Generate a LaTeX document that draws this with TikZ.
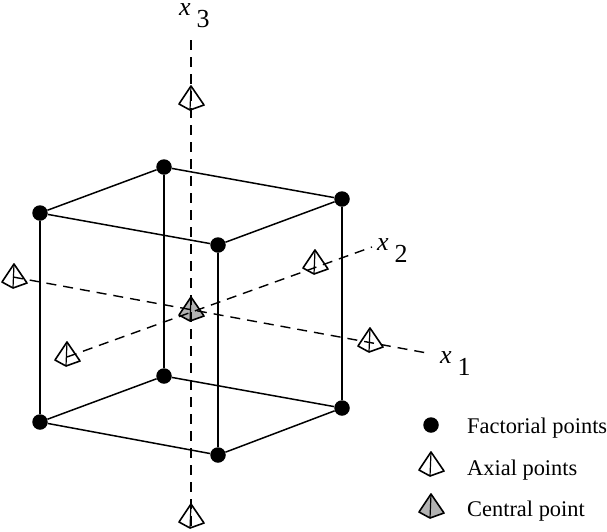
\documentclass[tikz,border=0pt]{standalone}
\usepackage{fontspec}
\setmainfont{Liberation Serif}
\newcommand{\axlabel}[1]{\textit{x}\hspace{6pt}\raisebox{-12.5pt}{#1}}
\tikzset{
  edge/.style={line width=1.5pt,black},
  axisline/.style={line width=1.4pt,black,dash pattern=on 10pt off 7pt},
  fdot/.style={circle,fill=black,draw=none,minimum size=15.5pt,inner sep=0pt},
  legendtext/.style={font=\fontsize{22.4}{26}\selectfont,anchor=base west,inner sep=0pt},
  axislabel/.style={font=\fontsize{26}{28}\selectfont,anchor=base west,inner sep=0pt},
  pics/pyramid/.style={code={
    \path[fill=#1] (0,-12) -- (-12,6) -- (-1,12) -- (13,7) -- cycle;
  }},
  pics/pyramidline/.style={code={
    \draw[line width=1.6pt,line join=round] (0,-12) -- (-12,6) -- (-1,12) -- (13,7) -- cycle;
    \draw[line width=1.2pt] (0,-12) -- (-1,12);
  }},
}
\begin{document}
\begin{tikzpicture}[x=1pt,y=-1pt]
\useasboundingbox (0,0) rectangle (607,531);
% axis ends and point positions
\coordinate (x3a) at (191,40);
\coordinate (x3b) at (191,531);
\coordinate (x1a) at (13,277);
\coordinate (x1b) at (427,353);
\coordinate (x2a) at (67,357);
\coordinate (x2b) at (372,247);
\coordinate (ptop) at (191,98);
\coordinate (pbot) at (191,516);
\coordinate (pleft) at (14,276);
\coordinate (pright) at (370,340);
\coordinate (pback) at (315,262);
\coordinate (pfront) at (67,354);
\coordinate (pcen) at (191,309);
\coordinate (plega) at (431,464);
\coordinate (plegc) at (431,506);
% pyramid fills
\foreach \p in {ptop,pbot,pleft,pright,pback,pfront,plega} \path (\p) pic {pyramid=white};
\path (pcen) pic {pyramid=black!30};
\path (plegc) pic {pyramid=black!30};
% axes
\draw[axisline] (x3a) -- (x3b);
\draw[axisline] (x1a) -- (x1b);
\draw[axisline] (x2a) -- (x2b);
% cube
\node[fdot] (ftl) at (218,245) {};
\node[fdot] (ltl) at (40,213) {};
\node[fdot] (btl) at (164,167) {};
\node[fdot] (rtl) at (342,199) {};
\node[fdot] (fbl) at (218,455) {};
\node[fdot] (lbl) at (40,422) {};
\node[fdot] (bbl) at (164,376) {};
\node[fdot] (rbl) at (342,408) {};
\draw[edge] (ltl) -- (ftl) -- (rtl) -- (btl) -- (ltl);
\draw[edge] (lbl) -- (fbl) -- (rbl) -- (bbl) -- (lbl);
\draw[edge] (ltl) -- (lbl);
\draw[edge] (ftl) -- (fbl);
\draw[edge] (rtl) -- (rbl);
\draw[edge] (btl) -- (bbl);
% pyramid outlines
\foreach \p in {ptop,pbot,pleft,pright,pback,pfront,pcen,plega,plegc} \path (\p) pic {pyramidline};
% labels
\node[axislabel] (l3) at (179,15) {\axlabel{3}};
\node[axislabel] (l1) at (440,363) {\axlabel{1}};
\node[axislabel] (l2) at (377,250) {\axlabel{2}};
% legend
\node[fdot] (legf) at (431,425) {};
\node[legendtext] (t1) at (467,433) {Factorial points};
\node[legendtext] (t2) at (467,475) {Axial points};
\node[legendtext] (t3) at (467,516) {Central point};
\end{tikzpicture}
\end{document}
